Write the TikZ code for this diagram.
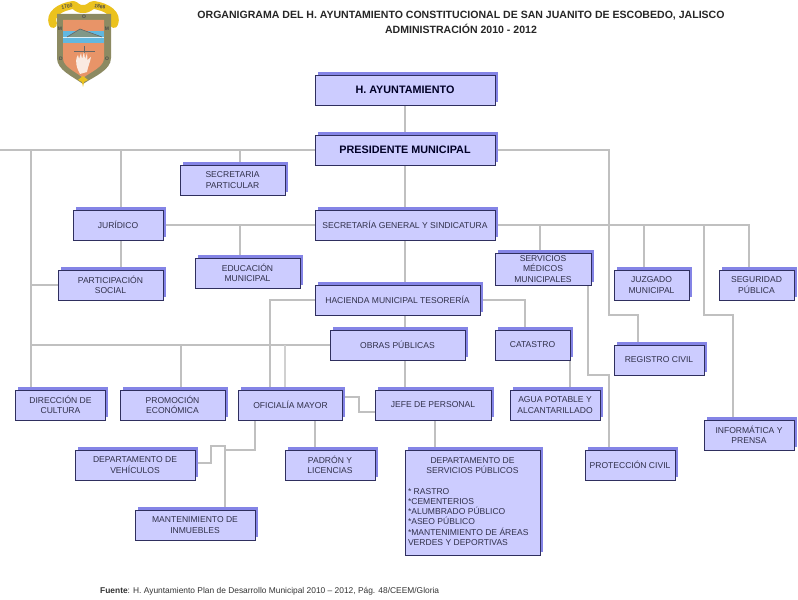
\documentclass[tikz,border=0pt]{standalone}
\usepackage{fontspec}
\setmainfont{Liberation Sans}
\usetikzlibrary{shadows,backgrounds}
\definecolor{boxfill}{HTML}{CCCCFF}
\definecolor{boxedge}{HTML}{2F2F5F}
\definecolor{boxshade}{HTML}{8484E6}
\definecolor{wire}{HTML}{C0C0C0}
\definecolor{ink}{HTML}{30304A}
\definecolor{olive}{HTML}{8C8A62}
\definecolor{salmon}{HTML}{E89468}
\definecolor{skyb}{HTML}{62B8E0}
\definecolor{gold}{HTML}{EBC21E}
\tikzset{
  orgbox/.style={draw=boxedge, line width=0.9bp, fill=boxfill, rectangle, inner sep=0pt, align=center, text=ink,
    font=\fontsize{8.55bp}{10.2bp}\selectfont,
    drop shadow={shadow xshift=2.6bp, shadow yshift=2.6bp, opacity=1, fill=boxshade, draw=none}},
  mainbox/.style={orgbox, font=\fontsize{10.8bp}{12bp}\selectfont\bfseries, text=black!85!blue},
  wireline/.style={draw=wire, line width=2bp},
  thinwire/.style={draw=wire!75!white, line width=1.4bp},
  titletext/.style={font=\fontsize{10.55bp}{12bp}\selectfont\bfseries, text=black!85, inner sep=0pt},
  foot/.style={font=\fontsize{8.4bp}{10bp}\selectfont, text=black!80, inner sep=0pt, anchor=west},
  crest/.style={font=\fontsize{5bp}{5bp}\selectfont\bfseries, text=black!70, inner sep=0pt}
}
\begin{document}
\begin{tikzpicture}[x=1bp,y=-1bp]
\useasboundingbox (0,0) rectangle (798,600);
% boxes
\node[mainbox, minimum width=180bp, minimum height=30bp] (ayunt) at (405,90) {H. AYUNTAMIENTO};
\node[mainbox, minimum width=180bp, minimum height=30bp] (pres) at (405,150) {PRESIDENTE MUNICIPAL};
\node[orgbox, minimum width=105bp, minimum height=30bp] (secpart) at (232.5,180) {SECRETARIA\\PARTICULAR};
\node[orgbox, minimum width=90bp, minimum height=30bp] (jur) at (118,225) {JURÍDICO};
\node[orgbox, minimum width=180bp, minimum height=30bp] (secgen) at (405,225) {SECRETARÍA GENERAL Y SINDICATURA};
\node[orgbox, minimum width=105bp, minimum height=30bp] (edu) at (247.5,273) {EDUCACIÓN\\MUNICIPAL};
\node[orgbox, minimum width=96bp, minimum height=32bp] (serv) at (543,269) {SERVICIOS\\MÉDICOS\\MUNICIPALES};
\node[orgbox, minimum width=75bp, minimum height=30bp] (juz) at (651.5,285) {JUZGADO\\MUNICIPAL};
\node[orgbox, minimum width=75bp, minimum height=30bp] (seg) at (756.5,285) {SEGURIDAD\\PÚBLICA};
\node[orgbox, minimum width=105bp, minimum height=30bp] (part) at (110.5,285) {PARTICIPACIÓN\\SOCIAL};
\node[orgbox, minimum width=165bp, minimum height=30bp] (hac) at (397.5,300) {HACIENDA MUNICIPAL TESORERÍA};
\node[orgbox, minimum width=135bp, minimum height=30bp] (obras) at (397.5,345) {OBRAS PÚBLICAS};
\node[orgbox, minimum width=75bp, minimum height=30bp] (cat) at (532.5,345) {CATASTRO};
\node[orgbox, minimum width=90bp, minimum height=30bp] (reg) at (659,360) {REGISTRO CIVIL};
\node[orgbox, minimum width=90bp, minimum height=30bp] (dir) at (60.5,405) {DIRECCIÓN DE\\CULTURA};
\node[orgbox, minimum width=105bp, minimum height=30bp] (prom) at (172.5,405) {PROMOCIÓN\\ECONÓMICA};
\node[orgbox, minimum width=104bp, minimum height=30bp] (ofi) at (290.5,405) {OFICIALÍA MAYOR};
\node[orgbox, minimum width=116bp, minimum height=30bp] (jefe) at (433,405) {JEFE DE PERSONAL};
\node[orgbox, minimum width=90bp, minimum height=30bp] (agua) at (555,405) {AGUA POTABLE Y\\ALCANTARILLADO};
\node[orgbox, minimum width=90bp, minimum height=30bp] (inf) at (749,435) {INFORMÁTICA Y\\PRENSA};
\node[orgbox, minimum width=90bp, minimum height=30bp] (prot) at (630,465) {PROTECCIÓN CIVIL};
\node[orgbox, minimum width=120bp, minimum height=30bp] (veh) at (135,465) {DEPARTAMENTO DE\\VEHÍCULOS};
\node[orgbox, minimum width=90bp, minimum height=30bp] (pad) at (330,465) {PADRÓN Y\\LICENCIAS};
\node[orgbox, minimum width=135bp, minimum height=105bp, text width=129bp, align=none] (dep) at (472.5,502.5) {{\centering DEPARTAMENTO DE\\SERVICIOS PÚBLICOS\par}\vspace{10.5bp}\raggedright * RASTRO\\{}*CEMENTERIOS\\{}*ALUMBRADO PÚBLICO\\{}*ASEO PÚBLICO\\{}*MANTENIMIENTO DE ÁREAS\\VERDES Y DEPORTIVAS\par\vspace{2bp}};
\node[orgbox, minimum width=120bp, minimum height=30bp] (mant) at (195,525) {MANTENIMIENTO DE\\INMUEBLES};
% texts
\node[titletext] (t1) at (461,16) {ORGANIGRAMA DEL H. AYUNTAMIENTO CONSTITUCIONAL DE SAN JUANITO DE ESCOBEDO, JALISCO};
\node[titletext] (t2) at (461,29) {ADMINISTRACIÓN 2010 - 2012};
\node[foot] (fuente) at (100,591) {\textbf{Fuente}: H. Ayuntamiento Plan de Desarrollo Municipal 2010 – 2012, Pág. 48/CEEM/Gloria};
% junctions
\coordinate (edgeL) at (0,150);
\coordinate (xDir) at (31,150);
\coordinate (xJur) at (121,150);
\coordinate (xSec) at (240,150);
\coordinate (xReg) at (609,150);
\coordinate (regA) at (609,315);
\coordinate (regB) at (638,315);
\coordinate (xServ) at (540,225);
\coordinate (xJuz) at (644,225);
\coordinate (xInf) at (704,225);
\coordinate (infA) at (704,315);
\coordinate (infB) at (733,315);
\coordinate (xSeg) at (749,225);
\coordinate (servA) at (588,285);
\coordinate (servB) at (588,375);
\coordinate (servC) at (609,375);
\coordinate (xOfi) at (270,300);
\coordinate (xCat) at (525,300);
\coordinate (xProm) at (181,345);
\coordinate (xOfiB) at (285,345);
\coordinate (xAgua) at (570,360);
\coordinate (ojA) at (359,397);
\coordinate (ojB) at (359,412);
\coordinate (ovA) at (255,420);
\coordinate (ovB) at (255,450);
\coordinate (ovC) at (225,450);
\coordinate (ovD) at (225,446);
\coordinate (ovE) at (211,446);
\coordinate (ovF) at (211,463);
\coordinate (xPad) at (315,420);
\coordinate (xDep) at (435,420);
\begin{pgfonlayer}{background}
\draw[wireline] (ayunt) -- (pres);
\draw[wireline] (pres) -- (secgen);
\draw[wireline] (secgen) -- (hac.north -| secgen);
\draw[wireline] (hac.south -| secgen) -- (obras.north -| secgen);
\draw[wireline] (obras.south -| secgen) -- (jefe.north -| secgen);
\draw[wireline] (pres.west) -- (edgeL);
\draw[wireline] (xDir) -- (xDir |- dir.north);
\draw[wireline] (xJur) -- (xJur |- jur.north);
\draw[wireline] (xSec) -- (xSec |- secpart.north);
\draw[wireline] (xJur |- jur.south) -- (xJur |- part.north);
\draw[wireline] (part.west) -- (xDir |- part.west);
\draw[wireline] (jur.east) -- (secgen.west);
\draw[wireline] (xSec |- secgen.west) -- (xSec |- edu.north);
\draw[wireline] (pres.east) -- (xReg) -- (regA) -- (regB) -- (regB |- reg.north);
\draw[wireline] (secgen.east) -- (xSeg) -- (xSeg |- seg.north);
\draw[wireline] (xServ) -- (xServ |- serv.north);
\draw[wireline] (xJuz) -- (xJuz |- juz.north);
\draw[wireline] (xInf) -- (infA) -- (infB) -- (infB |- inf.north);
\draw[wireline] (servA) -- (servB) -- (servC) -- (servC |- prot.north);
\draw[wireline] (hac.west) -- (xOfi) -- (xOfi |- ofi.north);
\draw[wireline] (hac.east) -- (xCat) -- (xCat |- cat.north);
\draw[wireline] (obras.west) -- (xDir |- obras.west);
\draw[wireline] (xProm) -- (xProm |- prom.north);
\draw[thinwire] (xOfiB) -- (xOfiB |- ofi.north);
\draw[wireline] (xAgua) -- (xAgua |- agua.north);
\draw[wireline] (ofi.east |- ojA) -- (ojA) -- (ojB) -- (jefe.west |- ojB);
\draw[wireline] (ovA) -- (ovB) -- (ovC) -- (ovD) -- (ovE) -- (ovF) -- (veh.east |- ovF);
\draw[wireline] (ovD) -- (ovD |- mant.north);
\draw[wireline] (xPad) -- (xPad |- pad.north);
\draw[wireline] (xDep) -- (xDep |- dep.north);
\end{pgfonlayer}
% crest
\draw[gold, line width=8bp, line cap=round, line join=round] (53,24) .. controls (49,14) and (60,7) .. (73,5) .. controls (76,5) and (76,9) .. (83,9) .. controls (90,9) and (90,5) .. (94,5) .. controls (107,7) and (118,14) .. (114,24);
\fill[olive] (57,14) -- (111,14) -- (111,58) .. controls (111,70) and (95,76) .. (83,84) .. controls (72,76) and (57,70) .. (57,58) -- cycle;
\fill[salmon] (63,20) -- (104,20) -- (104,58) .. controls (104,67) and (92,71) .. (83,78) .. controls (75,71) and (63,67) .. (63,58) -- cycle;
\fill[skyb] (63,31) rectangle (104,43);
\fill[white!80!skyb] (63,37) rectangle (104,38.2);
\fill[olive!70!skyb] (67,37) -- (80,29) -- (102,37) -- cycle;
\draw[black!60, line width=0.6bp, line join=round] (67,37) -- (80,29) -- (102,37);
\draw[black!60, line width=0.4bp] (74,51) -- (95,51);
\draw[black!60, line width=0.8bp] (84,46) -- (84,53);
\fill[white!80!salmon] (78,70) .. controls (75,62) and (76,58) .. (78,55) -- (79,59) -- (81,53) -- (82,59) -- (84,52) -- (85,59) -- (87,53) -- (87.5,60) -- (91,57) .. controls (90,63) and (88,66) .. (87,72) -- (80,74) -- cycle;
\fill[gold] (83,76) -- (88,80) -- (84,82) -- (83,87) -- (82,82) -- (78,80) -- cycle;
\node[crest, rotate=12] (yA) at (67,6.5) {1700};
\node[crest, rotate=-12] (yB) at (100,6.5) {1866};
\node[crest] (l1) at (84,17) {O};
\node[crest] (l2) at (60,29) {M};
\node[crest] (l3) at (107,29) {M};
\node[crest] (l4) at (61,59) {D};
\node[crest] (l5) at (107,58.5) {O};
\end{tikzpicture}
\end{document}
